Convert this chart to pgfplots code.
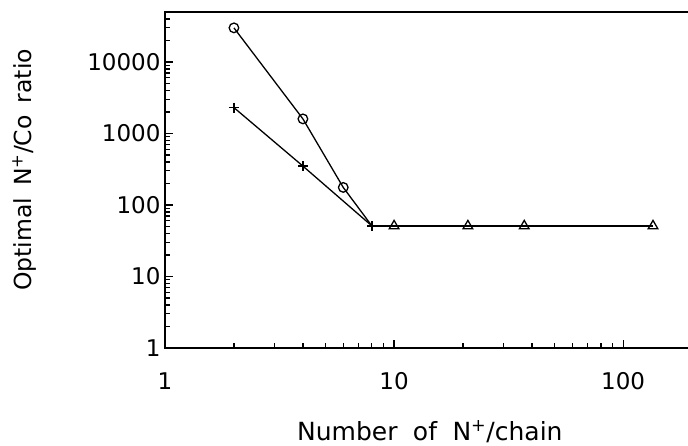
\documentclass[border=0pt]{standalone}
\usepackage{fontspec}
\setmainfont{DejaVu Sans}
\usepackage{pgfplots}
\pgfplotsset{compat=1.18}
\begin{document}
\begin{tikzpicture}
\begin{axis}[
  xmode=log, ymode=log,
  scale only axis, width=535bp, height=336bp,
  xmin=1, xmax=216.5, ymin=1, ymax=50000,
  xtick pos=left, ytick pos=left,
  axis line style={line width=1.4bp},
  tick style={line width=1.2bp, black},
  tick align=inside,
  major tick length=8.5bp, minor tick length=5.5bp,
  xtick={1,10,100}, xticklabels={1,10,100},
  minor xtick={2,3,4,5,6,7,8,9,20,30,40,50,60,70,80,90},
  ytick={1,10,100,1000,10000}, yticklabels={1,10,100,1000,10000},
  minor ytick={2,3,4,5,6,7,8,9,20,30,40,50,60,70,80,90,200,300,400,500,600,700,800,900,2000,3000,4000,5000,6000,7000,8000,9000,20000,30000,40000},
  xticklabel style={font=\fontsize{23bp}{26bp}\selectfont, yshift=-21bp},
  yticklabel style={font=\fontsize{23bp}{26bp}\selectfont, xshift=-1bp},
  xlabel={Number\hspace{0.3em} of\hspace{0.3em} N\textsuperscript{+}/chain},
  ylabel={Optimal\hspace{0.2em} N\textsuperscript{+}/Co\hspace{0.2em} ratio},
  xlabel style={font=\fontsize{25bp}{28bp}\selectfont, at={(axis description cs:0.495,-0.274)}, anchor=base},
  ylabel style={font=\fontsize{23.5bp}{27bp}\selectfont, at={(axis description cs:-0.263,0.53)}, anchor=center},
  every axis plot/.append style={black, line width=1.3bp, mark options={solid, line width=1.3bp}},
]
\addplot[mark=o, mark size=4.8bp, mark indices={1,2,3}] coordinates {(2,30000) (4,1600) (6,176) (8,51)};
\addplot[mark=+, mark size=5bp, mark indices={1,2,3}] coordinates {(2,2300) (4,350) (8,51)};
\addplot[mark=triangle, mark size=5.5bp, mark indices={2,3,4,5}] coordinates {(8,51) (10,51) (21,51) (37,51) (135,51)};
\end{axis}
\pgfresetboundingbox
\path ([shift={(-165bp,-98bp)}]current axis.south west) rectangle ([shift={(523bp,12bp)}]current axis.north west);
\end{tikzpicture}
\end{document}
